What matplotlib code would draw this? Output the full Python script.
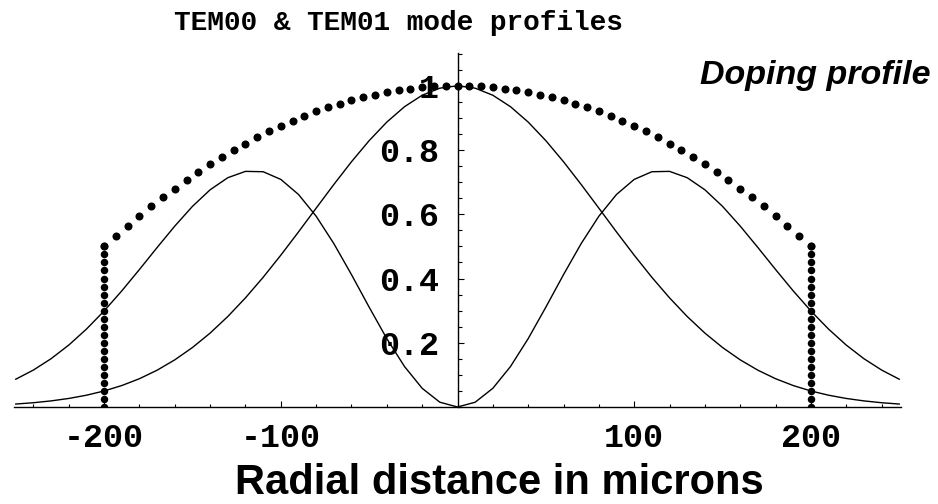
import matplotlib

matplotlib.use("Agg")
import matplotlib.pyplot as plt
import numpy as np
from matplotlib.ticker import MultipleLocator

# Half profiles (symmetric about r = 0)
radius = [0, 10, 20, 30, 40, 50, 60, 70, 80, 90, 100, 110, 120, 130, 140,
          150, 160, 170, 180, 190, 200, 210, 220, 230, 240, 250]
tem00 = [1.0, 0.9925, 0.9705, 0.9348, 0.887, 0.8291, 0.7635, 0.6926, 0.619,
         0.5449, 0.4726, 0.4037, 0.3398, 0.2817, 0.2301, 0.1852, 0.1468,
         0.1146, 0.0881, 0.0668, 0.0499, 0.0367, 0.0266, 0.019, 0.0133, 0.0092]
tem01 = [0.0, 0.0149, 0.0582, 0.1261, 0.2128, 0.3108, 0.4121, 0.5088, 0.5939,
         0.6617, 0.7085, 0.7324, 0.7335, 0.7138, 0.6762, 0.6246, 0.5632,
         0.4965, 0.4281, 0.3615, 0.299, 0.2425, 0.1928, 0.1504, 0.1151, 0.0865]

# Doping profile dots (half), and the vertical dotted walls at +/-200
dop_r = [0.0, 6.67, 13.33, 20.0, 26.67, 33.33, 40.0, 46.67, 53.33, 60.0,
         66.67, 73.33, 80.0, 86.67, 93.33, 100.0, 106.67, 113.33, 120.0,
         126.67, 133.33, 140.0, 146.67, 153.33, 160.0, 166.67, 173.33, 180.0,
         186.67, 193.33, 200.0]
dop_y = [1.0, 0.9994, 0.9978, 0.995, 0.9911, 0.9861, 0.98, 0.9728, 0.9644,
         0.955, 0.9444, 0.9328, 0.92, 0.9061, 0.8911, 0.875, 0.8578, 0.8394,
         0.82, 0.7994, 0.7778, 0.755, 0.7311, 0.7061, 0.68, 0.6528, 0.6244,
         0.595, 0.5644, 0.5328, 0.5]
wall_r = 200
wall_y = [0.0, 0.025, 0.05, 0.075, 0.1, 0.125, 0.15, 0.175, 0.2, 0.225, 0.25,
          0.275, 0.3, 0.325, 0.35, 0.375, 0.4, 0.425, 0.45, 0.475, 0.5]

xticks = [-200, -100, 100, 200]
xticklabels = ["-200", "-100", "100", "200"]
yticks = [0.2, 0.4, 0.6, 0.8, 1.0]
yticklabels = ["0.2", "0.4", "0.6", "0.8", "1"]


def mirror(r, v):
    r = np.asarray(r, dtype=float)
    v = np.asarray(v, dtype=float)
    return np.r_[-r[::-1], r[1:]], np.r_[v[::-1], v[1:]]


plt.rcParams["axes.unicode_minus"] = False
mono = "Liberation Mono"
sans = "Liberation Sans"

fig = plt.figure(figsize=(9.38, 5.04), dpi=100)
ax = fig.add_axes([14 / 938, 97 / 504, 887 / 938, 354 / 504])

x, y0 = mirror(radius, tem00)
ax.plot(x, y0, color="black", lw=1.0)
x, y1 = mirror(radius, tem01)
ax.plot(x, y1, color="black", lw=1.0)

dx, dy = mirror(dop_r, dop_y)
ax.plot(dx, dy, "o", color="black", ms=5.8, mew=0)
for side in (-1, 1):
    ax.plot([side * wall_r] * len(wall_y), wall_y, "o", color="black",
            ms=5.4, mew=0)

ax.set_xlim(-251, 251)
ax.set_ylim(0, 1.102)

# Axes crossing at the origin, Mathematica style
ax.spines["left"].set_position(("data", 0))
ax.spines["right"].set_visible(False)
ax.spines["top"].set_visible(False)
for sp in ("left", "bottom"):
    ax.spines[sp].set_linewidth(1.0)

ax.set_xticks(xticks, xticklabels)
ax.set_yticks(yticks, yticklabels)
ax.xaxis.set_minor_locator(MultipleLocator(20))
ax.yaxis.set_minor_locator(MultipleLocator(0.05))
ax.tick_params(axis="x", which="major", direction="in", length=4, width=0.8,
               pad=11.5)
ax.tick_params(axis="x", which="minor", direction="in", length=2.4, width=0.8)
ax.tick_params(axis="y", which="major", direction="in", length=4, width=0.8,
               pad=13.5)
ax.tick_params(axis="y", which="minor", direction="in", length=3, width=0.8)
for lab in ax.get_xticklabels() + ax.get_yticklabels():
    lab.set_fontfamily(mono)
    lab.set_fontweight("bold")
    lab.set_fontsize(24)

fig.text(398 / 938, 1 - 30 / 504, "TEM00 & TEM01 mode profiles", ha="center",
         va="baseline", family=mono, weight="bold", fontsize=20)
fig.text(499 / 938, 9.5 / 504, "Radial distance in microns", ha="center",
         va="baseline", family=sans, weight="bold", fontsize=30)
fig.text(930 / 938, 1 - 84 / 504, "Doping profile", ha="right",
         va="baseline", family=sans, weight="bold", style="italic",
         fontsize=24.5)

fig.savefig("out.png", dpi=100)
